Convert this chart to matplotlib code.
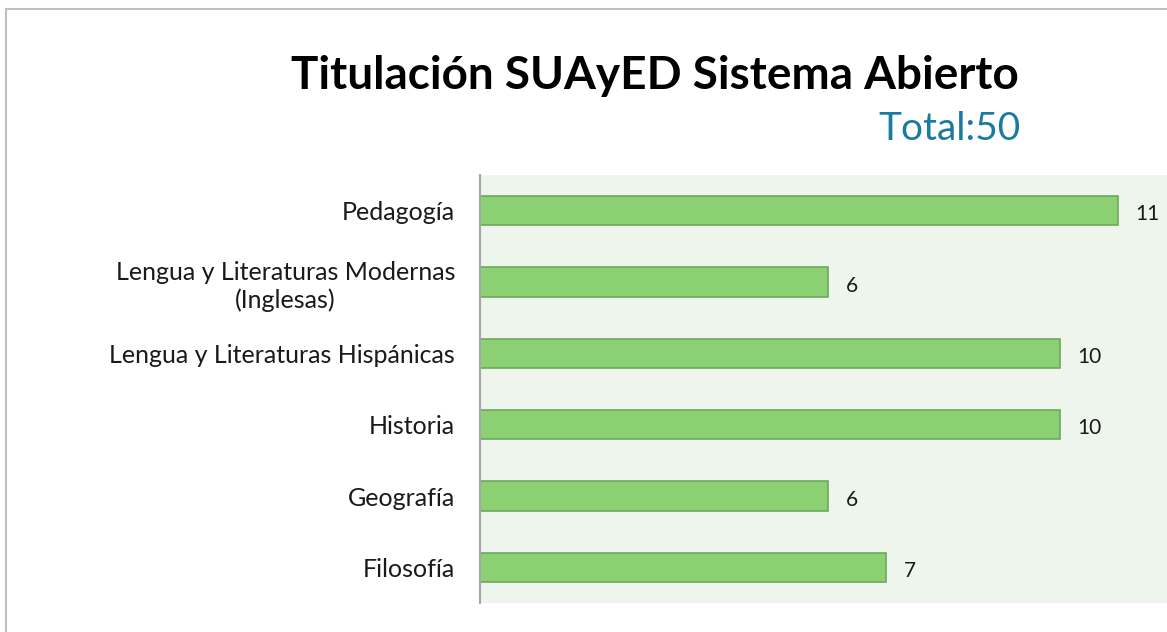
import matplotlib
matplotlib.use("Agg")
import matplotlib.pyplot as plt
from matplotlib.lines import Line2D

# Data (bottom to top as drawn)
categories = ["Filosofía", "Geografía", "Historia",
              "Lengua y Literaturas Hispánicas",
              "Lengua y Literaturas Modernas\n(Inglesas)", "Pedagogía"]
values = [7, 6, 10, 10, 6, 11]
title = "Titulación SUAyED Sistema Abierto"
subtitle = "Total:50"

plt.rcParams['font.family'] = ['Lato', 'DejaVu Sans']

fig = plt.figure(figsize=(11.67, 6.32), dpi=100)
ax = fig.add_axes([480 / 1167, 29 / 632, 687 / 1167, 428 / 632])
ax.set_facecolor('#EEF5ED')

y = range(len(categories))
ax.barh(y, values, height=0.41, color='#8BD174', edgecolor='#6EA85C', linewidth=1.2)

for yi, v in zip(y, values):
    ax.text(v + 0.3, yi - 0.05, str(v), va='center', ha='left', fontsize=15, color='#1a1a1a')

ax.set_xlim(0, 11.84)
ax.set_ylim(-0.5, len(categories) - 0.5)
ax.set_yticks(list(y))
ax.set_yticklabels(categories, fontsize=18, color='#1a1a1a', multialignment='center',
                   linespacing=1.25)
ax.tick_params(axis='y', length=0, pad=18)
ax.set_xticks([])
for side in ['top', 'right', 'bottom']:
    ax.spines[side].set_visible(False)
ax.spines['left'].set_color('#A6A6A6')
ax.spines['left'].set_linewidth(1.5)

# titles
fig.text(655 / 1167, 1 - 76 / 632, title, ha='center', va='center',
         fontsize=33, fontweight='bold', color='black')
fig.text(1021 / 1167, 1 - 129 / 632, subtitle, ha='right', va='center',
         fontsize=28, color='#1A7AA0')

# outer frame
fig.add_artist(Line2D([6 / 1167, 6 / 1167], [0, 1 - 9 / 632], transform=fig.transFigure,
                      color='#BFBFBF', linewidth=1.5))
fig.add_artist(Line2D([6 / 1167, 1], [1 - 9 / 632, 1 - 9 / 632], transform=fig.transFigure,
                      color='#BFBFBF', linewidth=1.5))

plt.savefig('out.png', dpi=100)
